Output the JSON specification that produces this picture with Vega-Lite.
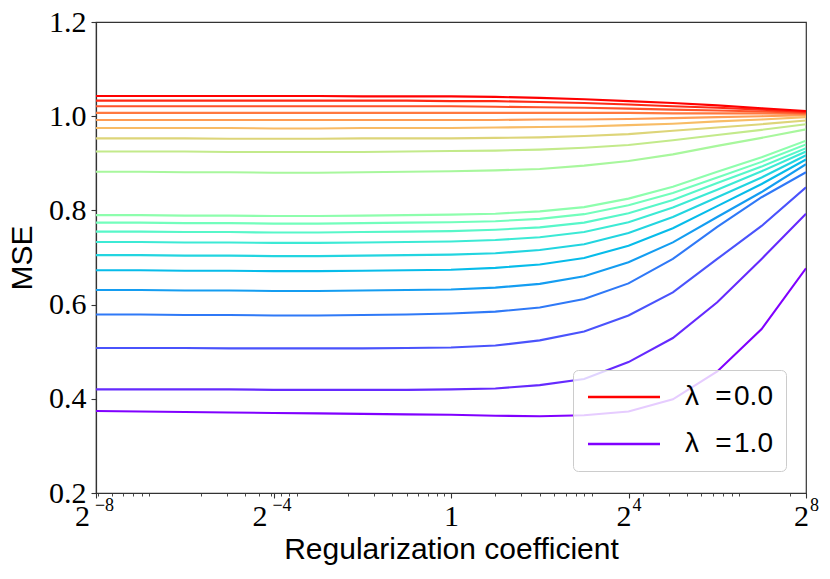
{
  "$schema": "https://vega.github.io/schema/vega-lite/v6.json",
  "autosize": {"type": "none"},
  "padding": {"left": 96, "top": 22, "right": 24, "bottom": 86},
  "width": 710,
  "height": 471,
  "background": "white",
  "config": {
    "view": {"stroke": "#333333", "strokeWidth": 1.2},
    "axis": {"grid": false, "domainColor": "#333333", "domainWidth": 1.2, "tickColor": "#333333", "tickWidth": 1.1, "labelColor": "black", "titleColor": "black", "titleFontWeight": "normal"}
  },
  "data": {
    "values": [
      {"lambda": 1, "coef": 0.00390625, "mse": 0.374}, {"lambda": 1, "coef": 0.0078125, "mse": 0.373}, {"lambda": 1, "coef": 0.015625, "mse": 0.372}, {"lambda": 1, "coef": 0.03125, "mse": 0.371}, {"lambda": 1, "coef": 0.0625, "mse": 0.370}, {"lambda": 1, "coef": 0.125, "mse": 0.369}, {"lambda": 1, "coef": 0.25, "mse": 0.368}, {"lambda": 1, "coef": 0.5, "mse": 0.367}, {"lambda": 1, "coef": 1, "mse": 0.366}, {"lambda": 1, "coef": 2, "mse": 0.364}, {"lambda": 1, "coef": 4, "mse": 0.363}, {"lambda": 1, "coef": 8, "mse": 0.365}, {"lambda": 1, "coef": 16, "mse": 0.373}, {"lambda": 1, "coef": 32, "mse": 0.399}, {"lambda": 1, "coef": 64, "mse": 0.458}, {"lambda": 1, "coef": 128, "mse": 0.548}, {"lambda": 1, "coef": 256, "mse": 0.677},
      {"lambda": 0.947, "coef": 0.00390625, "mse": 0.420}, {"lambda": 0.947, "coef": 0.0078125, "mse": 0.420}, {"lambda": 0.947, "coef": 0.015625, "mse": 0.420}, {"lambda": 0.947, "coef": 0.03125, "mse": 0.420}, {"lambda": 0.947, "coef": 0.0625, "mse": 0.419}, {"lambda": 0.947, "coef": 0.125, "mse": 0.419}, {"lambda": 0.947, "coef": 0.25, "mse": 0.419}, {"lambda": 0.947, "coef": 0.5, "mse": 0.419}, {"lambda": 0.947, "coef": 1, "mse": 0.420}, {"lambda": 0.947, "coef": 2, "mse": 0.422}, {"lambda": 0.947, "coef": 4, "mse": 0.429}, {"lambda": 0.947, "coef": 8, "mse": 0.442}, {"lambda": 0.947, "coef": 16, "mse": 0.478}, {"lambda": 0.947, "coef": 32, "mse": 0.529}, {"lambda": 0.947, "coef": 64, "mse": 0.605}, {"lambda": 0.947, "coef": 128, "mse": 0.697}, {"lambda": 0.947, "coef": 256, "mse": 0.793},
      {"lambda": 0.895, "coef": 0.00390625, "mse": 0.508}, {"lambda": 0.895, "coef": 0.0078125, "mse": 0.508}, {"lambda": 0.895, "coef": 0.015625, "mse": 0.508}, {"lambda": 0.895, "coef": 0.03125, "mse": 0.507}, {"lambda": 0.895, "coef": 0.0625, "mse": 0.507}, {"lambda": 0.895, "coef": 0.125, "mse": 0.507}, {"lambda": 0.895, "coef": 0.25, "mse": 0.507}, {"lambda": 0.895, "coef": 0.5, "mse": 0.508}, {"lambda": 0.895, "coef": 1, "mse": 0.509}, {"lambda": 0.895, "coef": 2, "mse": 0.513}, {"lambda": 0.895, "coef": 4, "mse": 0.524}, {"lambda": 0.895, "coef": 8, "mse": 0.543}, {"lambda": 0.895, "coef": 16, "mse": 0.577}, {"lambda": 0.895, "coef": 32, "mse": 0.626}, {"lambda": 0.895, "coef": 64, "mse": 0.697}, {"lambda": 0.895, "coef": 128, "mse": 0.767}, {"lambda": 0.895, "coef": 256, "mse": 0.849},
      {"lambda": 0.842, "coef": 0.00390625, "mse": 0.579}, {"lambda": 0.842, "coef": 0.0078125, "mse": 0.579}, {"lambda": 0.842, "coef": 0.015625, "mse": 0.578}, {"lambda": 0.842, "coef": 0.03125, "mse": 0.578}, {"lambda": 0.842, "coef": 0.0625, "mse": 0.577}, {"lambda": 0.842, "coef": 0.125, "mse": 0.577}, {"lambda": 0.842, "coef": 0.25, "mse": 0.578}, {"lambda": 0.842, "coef": 0.5, "mse": 0.579}, {"lambda": 0.842, "coef": 1, "mse": 0.581}, {"lambda": 0.842, "coef": 2, "mse": 0.585}, {"lambda": 0.842, "coef": 4, "mse": 0.594}, {"lambda": 0.842, "coef": 8, "mse": 0.612}, {"lambda": 0.842, "coef": 16, "mse": 0.645}, {"lambda": 0.842, "coef": 32, "mse": 0.697}, {"lambda": 0.842, "coef": 64, "mse": 0.765}, {"lambda": 0.842, "coef": 128, "mse": 0.828}, {"lambda": 0.842, "coef": 256, "mse": 0.881},
      {"lambda": 0.789, "coef": 0.00390625, "mse": 0.631}, {"lambda": 0.789, "coef": 0.0078125, "mse": 0.631}, {"lambda": 0.789, "coef": 0.015625, "mse": 0.630}, {"lambda": 0.789, "coef": 0.03125, "mse": 0.630}, {"lambda": 0.789, "coef": 0.0625, "mse": 0.629}, {"lambda": 0.789, "coef": 0.125, "mse": 0.629}, {"lambda": 0.789, "coef": 0.25, "mse": 0.630}, {"lambda": 0.789, "coef": 0.5, "mse": 0.631}, {"lambda": 0.789, "coef": 1, "mse": 0.632}, {"lambda": 0.789, "coef": 2, "mse": 0.636}, {"lambda": 0.789, "coef": 4, "mse": 0.644}, {"lambda": 0.789, "coef": 8, "mse": 0.660}, {"lambda": 0.789, "coef": 16, "mse": 0.690}, {"lambda": 0.789, "coef": 32, "mse": 0.732}, {"lambda": 0.789, "coef": 64, "mse": 0.786}, {"lambda": 0.789, "coef": 128, "mse": 0.839}, {"lambda": 0.789, "coef": 256, "mse": 0.898},
      {"lambda": 0.737, "coef": 0.00390625, "mse": 0.673}, {"lambda": 0.737, "coef": 0.0078125, "mse": 0.673}, {"lambda": 0.737, "coef": 0.015625, "mse": 0.672}, {"lambda": 0.737, "coef": 0.03125, "mse": 0.672}, {"lambda": 0.737, "coef": 0.0625, "mse": 0.671}, {"lambda": 0.737, "coef": 0.125, "mse": 0.671}, {"lambda": 0.737, "coef": 0.25, "mse": 0.672}, {"lambda": 0.737, "coef": 0.5, "mse": 0.673}, {"lambda": 0.737, "coef": 1, "mse": 0.674}, {"lambda": 0.737, "coef": 2, "mse": 0.678}, {"lambda": 0.737, "coef": 4, "mse": 0.685}, {"lambda": 0.737, "coef": 8, "mse": 0.699}, {"lambda": 0.737, "coef": 16, "mse": 0.725}, {"lambda": 0.737, "coef": 32, "mse": 0.762}, {"lambda": 0.737, "coef": 64, "mse": 0.809}, {"lambda": 0.737, "coef": 128, "mse": 0.856}, {"lambda": 0.737, "coef": 256, "mse": 0.908},
      {"lambda": 0.684, "coef": 0.00390625, "mse": 0.705}, {"lambda": 0.684, "coef": 0.0078125, "mse": 0.705}, {"lambda": 0.684, "coef": 0.015625, "mse": 0.704}, {"lambda": 0.684, "coef": 0.03125, "mse": 0.704}, {"lambda": 0.684, "coef": 0.0625, "mse": 0.703}, {"lambda": 0.684, "coef": 0.125, "mse": 0.703}, {"lambda": 0.684, "coef": 0.25, "mse": 0.704}, {"lambda": 0.684, "coef": 0.5, "mse": 0.705}, {"lambda": 0.684, "coef": 1, "mse": 0.706}, {"lambda": 0.684, "coef": 2, "mse": 0.709}, {"lambda": 0.684, "coef": 4, "mse": 0.716}, {"lambda": 0.684, "coef": 8, "mse": 0.728}, {"lambda": 0.684, "coef": 16, "mse": 0.752}, {"lambda": 0.684, "coef": 32, "mse": 0.786}, {"lambda": 0.684, "coef": 64, "mse": 0.828}, {"lambda": 0.684, "coef": 128, "mse": 0.870}, {"lambda": 0.684, "coef": 256, "mse": 0.917},
      {"lambda": 0.632, "coef": 0.00390625, "mse": 0.733}, {"lambda": 0.632, "coef": 0.0078125, "mse": 0.733}, {"lambda": 0.632, "coef": 0.015625, "mse": 0.732}, {"lambda": 0.632, "coef": 0.03125, "mse": 0.732}, {"lambda": 0.632, "coef": 0.0625, "mse": 0.731}, {"lambda": 0.632, "coef": 0.125, "mse": 0.731}, {"lambda": 0.632, "coef": 0.25, "mse": 0.732}, {"lambda": 0.632, "coef": 0.5, "mse": 0.733}, {"lambda": 0.632, "coef": 1, "mse": 0.734}, {"lambda": 0.632, "coef": 2, "mse": 0.737}, {"lambda": 0.632, "coef": 4, "mse": 0.743}, {"lambda": 0.632, "coef": 8, "mse": 0.754}, {"lambda": 0.632, "coef": 16, "mse": 0.775}, {"lambda": 0.632, "coef": 32, "mse": 0.806}, {"lambda": 0.632, "coef": 64, "mse": 0.844}, {"lambda": 0.632, "coef": 128, "mse": 0.883}, {"lambda": 0.632, "coef": 256, "mse": 0.925},
      {"lambda": 0.579, "coef": 0.00390625, "mse": 0.755}, {"lambda": 0.579, "coef": 0.0078125, "mse": 0.755}, {"lambda": 0.579, "coef": 0.015625, "mse": 0.754}, {"lambda": 0.579, "coef": 0.03125, "mse": 0.754}, {"lambda": 0.579, "coef": 0.0625, "mse": 0.753}, {"lambda": 0.579, "coef": 0.125, "mse": 0.753}, {"lambda": 0.579, "coef": 0.25, "mse": 0.754}, {"lambda": 0.579, "coef": 0.5, "mse": 0.755}, {"lambda": 0.579, "coef": 1, "mse": 0.756}, {"lambda": 0.579, "coef": 2, "mse": 0.759}, {"lambda": 0.579, "coef": 4, "mse": 0.764}, {"lambda": 0.579, "coef": 8, "mse": 0.774}, {"lambda": 0.579, "coef": 16, "mse": 0.794}, {"lambda": 0.579, "coef": 32, "mse": 0.822}, {"lambda": 0.579, "coef": 64, "mse": 0.858}, {"lambda": 0.579, "coef": 128, "mse": 0.893}, {"lambda": 0.579, "coef": 256, "mse": 0.932},
      {"lambda": 0.526, "coef": 0.00390625, "mse": 0.774}, {"lambda": 0.526, "coef": 0.0078125, "mse": 0.774}, {"lambda": 0.526, "coef": 0.015625, "mse": 0.773}, {"lambda": 0.526, "coef": 0.03125, "mse": 0.773}, {"lambda": 0.526, "coef": 0.0625, "mse": 0.772}, {"lambda": 0.526, "coef": 0.125, "mse": 0.772}, {"lambda": 0.526, "coef": 0.25, "mse": 0.773}, {"lambda": 0.526, "coef": 0.5, "mse": 0.774}, {"lambda": 0.526, "coef": 1, "mse": 0.775}, {"lambda": 0.526, "coef": 2, "mse": 0.777}, {"lambda": 0.526, "coef": 4, "mse": 0.782}, {"lambda": 0.526, "coef": 8, "mse": 0.792}, {"lambda": 0.526, "coef": 16, "mse": 0.811}, {"lambda": 0.526, "coef": 32, "mse": 0.837}, {"lambda": 0.526, "coef": 64, "mse": 0.870}, {"lambda": 0.526, "coef": 128, "mse": 0.903}, {"lambda": 0.526, "coef": 256, "mse": 0.940},
      {"lambda": 0.474, "coef": 0.00390625, "mse": 0.790}, {"lambda": 0.474, "coef": 0.0078125, "mse": 0.790}, {"lambda": 0.474, "coef": 0.015625, "mse": 0.789}, {"lambda": 0.474, "coef": 0.03125, "mse": 0.789}, {"lambda": 0.474, "coef": 0.0625, "mse": 0.788}, {"lambda": 0.474, "coef": 0.125, "mse": 0.788}, {"lambda": 0.474, "coef": 0.25, "mse": 0.789}, {"lambda": 0.474, "coef": 0.5, "mse": 0.790}, {"lambda": 0.474, "coef": 1, "mse": 0.791}, {"lambda": 0.474, "coef": 2, "mse": 0.793}, {"lambda": 0.474, "coef": 4, "mse": 0.798}, {"lambda": 0.474, "coef": 8, "mse": 0.807}, {"lambda": 0.474, "coef": 16, "mse": 0.825}, {"lambda": 0.474, "coef": 32, "mse": 0.850}, {"lambda": 0.474, "coef": 64, "mse": 0.882}, {"lambda": 0.474, "coef": 128, "mse": 0.913}, {"lambda": 0.474, "coef": 256, "mse": 0.948},
      {"lambda": 0.421, "coef": 0.00390625, "mse": 0.882}, {"lambda": 0.421, "coef": 0.0078125, "mse": 0.882}, {"lambda": 0.421, "coef": 0.015625, "mse": 0.881}, {"lambda": 0.421, "coef": 0.03125, "mse": 0.881}, {"lambda": 0.421, "coef": 0.0625, "mse": 0.880}, {"lambda": 0.421, "coef": 0.125, "mse": 0.880}, {"lambda": 0.421, "coef": 0.25, "mse": 0.881}, {"lambda": 0.421, "coef": 0.5, "mse": 0.882}, {"lambda": 0.421, "coef": 1, "mse": 0.883}, {"lambda": 0.421, "coef": 2, "mse": 0.885}, {"lambda": 0.421, "coef": 4, "mse": 0.888}, {"lambda": 0.421, "coef": 8, "mse": 0.895}, {"lambda": 0.421, "coef": 16, "mse": 0.905}, {"lambda": 0.421, "coef": 32, "mse": 0.919}, {"lambda": 0.421, "coef": 64, "mse": 0.937}, {"lambda": 0.421, "coef": 128, "mse": 0.954}, {"lambda": 0.421, "coef": 256, "mse": 0.972},
      {"lambda": 0.368, "coef": 0.00390625, "mse": 0.925}, {"lambda": 0.368, "coef": 0.0078125, "mse": 0.925}, {"lambda": 0.368, "coef": 0.015625, "mse": 0.925}, {"lambda": 0.368, "coef": 0.03125, "mse": 0.924}, {"lambda": 0.368, "coef": 0.0625, "mse": 0.924}, {"lambda": 0.368, "coef": 0.125, "mse": 0.924}, {"lambda": 0.368, "coef": 0.25, "mse": 0.924}, {"lambda": 0.368, "coef": 0.5, "mse": 0.925}, {"lambda": 0.368, "coef": 1, "mse": 0.926}, {"lambda": 0.368, "coef": 2, "mse": 0.927}, {"lambda": 0.368, "coef": 4, "mse": 0.929}, {"lambda": 0.368, "coef": 8, "mse": 0.933}, {"lambda": 0.368, "coef": 16, "mse": 0.939}, {"lambda": 0.368, "coef": 32, "mse": 0.949}, {"lambda": 0.368, "coef": 64, "mse": 0.960}, {"lambda": 0.368, "coef": 128, "mse": 0.971}, {"lambda": 0.368, "coef": 256, "mse": 0.983},
      {"lambda": 0.316, "coef": 0.00390625, "mse": 0.953}, {"lambda": 0.316, "coef": 0.0078125, "mse": 0.953}, {"lambda": 0.316, "coef": 0.015625, "mse": 0.953}, {"lambda": 0.316, "coef": 0.03125, "mse": 0.952}, {"lambda": 0.316, "coef": 0.0625, "mse": 0.952}, {"lambda": 0.316, "coef": 0.125, "mse": 0.952}, {"lambda": 0.316, "coef": 0.25, "mse": 0.953}, {"lambda": 0.316, "coef": 0.5, "mse": 0.953}, {"lambda": 0.316, "coef": 1, "mse": 0.953}, {"lambda": 0.316, "coef": 2, "mse": 0.954}, {"lambda": 0.316, "coef": 4, "mse": 0.955}, {"lambda": 0.316, "coef": 8, "mse": 0.958}, {"lambda": 0.316, "coef": 16, "mse": 0.962}, {"lambda": 0.316, "coef": 32, "mse": 0.969}, {"lambda": 0.316, "coef": 64, "mse": 0.976}, {"lambda": 0.316, "coef": 128, "mse": 0.983}, {"lambda": 0.316, "coef": 256, "mse": 0.991},
      {"lambda": 0.263, "coef": 0.00390625, "mse": 0.975}, {"lambda": 0.263, "coef": 0.0078125, "mse": 0.975}, {"lambda": 0.263, "coef": 0.015625, "mse": 0.975}, {"lambda": 0.263, "coef": 0.03125, "mse": 0.975}, {"lambda": 0.263, "coef": 0.0625, "mse": 0.974}, {"lambda": 0.263, "coef": 0.125, "mse": 0.974}, {"lambda": 0.263, "coef": 0.25, "mse": 0.975}, {"lambda": 0.263, "coef": 0.5, "mse": 0.975}, {"lambda": 0.263, "coef": 1, "mse": 0.975}, {"lambda": 0.263, "coef": 2, "mse": 0.976}, {"lambda": 0.263, "coef": 4, "mse": 0.977}, {"lambda": 0.263, "coef": 8, "mse": 0.978}, {"lambda": 0.263, "coef": 16, "mse": 0.981}, {"lambda": 0.263, "coef": 32, "mse": 0.984}, {"lambda": 0.263, "coef": 64, "mse": 0.989}, {"lambda": 0.263, "coef": 128, "mse": 0.993}, {"lambda": 0.263, "coef": 256, "mse": 0.998},
      {"lambda": 0.211, "coef": 0.00390625, "mse": 0.992}, {"lambda": 0.211, "coef": 0.0078125, "mse": 0.992}, {"lambda": 0.211, "coef": 0.015625, "mse": 0.992}, {"lambda": 0.211, "coef": 0.03125, "mse": 0.992}, {"lambda": 0.211, "coef": 0.0625, "mse": 0.992}, {"lambda": 0.211, "coef": 0.125, "mse": 0.992}, {"lambda": 0.211, "coef": 0.25, "mse": 0.992}, {"lambda": 0.211, "coef": 0.5, "mse": 0.992}, {"lambda": 0.211, "coef": 1, "mse": 0.992}, {"lambda": 0.211, "coef": 2, "mse": 0.992}, {"lambda": 0.211, "coef": 4, "mse": 0.993}, {"lambda": 0.211, "coef": 8, "mse": 0.993}, {"lambda": 0.211, "coef": 16, "mse": 0.994}, {"lambda": 0.211, "coef": 32, "mse": 0.996}, {"lambda": 0.211, "coef": 64, "mse": 0.998}, {"lambda": 0.211, "coef": 128, "mse": 1.000}, {"lambda": 0.211, "coef": 256, "mse": 1.002},
      {"lambda": 0.158, "coef": 0.00390625, "mse": 1.007}, {"lambda": 0.158, "coef": 0.0078125, "mse": 1.007}, {"lambda": 0.158, "coef": 0.015625, "mse": 1.007}, {"lambda": 0.158, "coef": 0.03125, "mse": 1.007}, {"lambda": 0.158, "coef": 0.0625, "mse": 1.007}, {"lambda": 0.158, "coef": 0.125, "mse": 1.007}, {"lambda": 0.158, "coef": 0.25, "mse": 1.007}, {"lambda": 0.158, "coef": 0.5, "mse": 1.007}, {"lambda": 0.158, "coef": 1, "mse": 1.007}, {"lambda": 0.158, "coef": 2, "mse": 1.007}, {"lambda": 0.158, "coef": 4, "mse": 1.007}, {"lambda": 0.158, "coef": 8, "mse": 1.007}, {"lambda": 0.158, "coef": 16, "mse": 1.007}, {"lambda": 0.158, "coef": 32, "mse": 1.006}, {"lambda": 0.158, "coef": 64, "mse": 1.006}, {"lambda": 0.158, "coef": 128, "mse": 1.006}, {"lambda": 0.158, "coef": 256, "mse": 1.005},
      {"lambda": 0.105, "coef": 0.00390625, "mse": 1.021}, {"lambda": 0.105, "coef": 0.0078125, "mse": 1.021}, {"lambda": 0.105, "coef": 0.015625, "mse": 1.021}, {"lambda": 0.105, "coef": 0.03125, "mse": 1.021}, {"lambda": 0.105, "coef": 0.0625, "mse": 1.021}, {"lambda": 0.105, "coef": 0.125, "mse": 1.021}, {"lambda": 0.105, "coef": 0.25, "mse": 1.021}, {"lambda": 0.105, "coef": 0.5, "mse": 1.021}, {"lambda": 0.105, "coef": 1, "mse": 1.021}, {"lambda": 0.105, "coef": 2, "mse": 1.020}, {"lambda": 0.105, "coef": 4, "mse": 1.019}, {"lambda": 0.105, "coef": 8, "mse": 1.018}, {"lambda": 0.105, "coef": 16, "mse": 1.016}, {"lambda": 0.105, "coef": 32, "mse": 1.014}, {"lambda": 0.105, "coef": 64, "mse": 1.012}, {"lambda": 0.105, "coef": 128, "mse": 1.010}, {"lambda": 0.105, "coef": 256, "mse": 1.007},
      {"lambda": 0.053, "coef": 0.00390625, "mse": 1.033}, {"lambda": 0.053, "coef": 0.0078125, "mse": 1.033}, {"lambda": 0.053, "coef": 0.015625, "mse": 1.033}, {"lambda": 0.053, "coef": 0.03125, "mse": 1.033}, {"lambda": 0.053, "coef": 0.0625, "mse": 1.033}, {"lambda": 0.053, "coef": 0.125, "mse": 1.033}, {"lambda": 0.053, "coef": 0.25, "mse": 1.033}, {"lambda": 0.053, "coef": 0.5, "mse": 1.033}, {"lambda": 0.053, "coef": 1, "mse": 1.032}, {"lambda": 0.053, "coef": 2, "mse": 1.032}, {"lambda": 0.053, "coef": 4, "mse": 1.030}, {"lambda": 0.053, "coef": 8, "mse": 1.028}, {"lambda": 0.053, "coef": 16, "mse": 1.025}, {"lambda": 0.053, "coef": 32, "mse": 1.021}, {"lambda": 0.053, "coef": 64, "mse": 1.018}, {"lambda": 0.053, "coef": 128, "mse": 1.014}, {"lambda": 0.053, "coef": 256, "mse": 1.009},
      {"lambda": 0, "coef": 0.00390625, "mse": 1.043}, {"lambda": 0, "coef": 0.0078125, "mse": 1.043}, {"lambda": 0, "coef": 0.015625, "mse": 1.043}, {"lambda": 0, "coef": 0.03125, "mse": 1.043}, {"lambda": 0, "coef": 0.0625, "mse": 1.043}, {"lambda": 0, "coef": 0.125, "mse": 1.043}, {"lambda": 0, "coef": 0.25, "mse": 1.042}, {"lambda": 0, "coef": 0.5, "mse": 1.042}, {"lambda": 0, "coef": 1, "mse": 1.042}, {"lambda": 0, "coef": 2, "mse": 1.041}, {"lambda": 0, "coef": 4, "mse": 1.039}, {"lambda": 0, "coef": 8, "mse": 1.036}, {"lambda": 0, "coef": 16, "mse": 1.032}, {"lambda": 0, "coef": 32, "mse": 1.028}, {"lambda": 0, "coef": 64, "mse": 1.023}, {"lambda": 0, "coef": 128, "mse": 1.017}, {"lambda": 0, "coef": 256, "mse": 1.011}
    ]
  },
  "layer": [
    {
      "mark": {"type": "line", "strokeWidth": 2.1, "clip": true},
      "encoding": {
        "x": {
          "field": "coef", "type": "quantitative",
          "scale": {"type": "log", "base": 2, "domain": [0.00390625, 256], "nice": false},
          "axis": {
            "orient": "bottom",
            "values": [0.00390625, 0.0625, 1, 16, 256],
            "labelExpr": "datum.value == 1 ? '1' : '2'",
            "labelFont": "Liberation Serif", "labelFontSize": 30, "labelPadding": 3, "labelFlush": false, "labelOverlap": false,
            "labelAlign": "center",
            "labelOffset": {"condition": [{"test": "datum.value < 0.5", "value": -14}, {"test": "datum.value > 2", "value": -5}], "value": 0},
            "tickSize": 5,
            "title": "Regularization coefficient", "titleFont": "Liberation Sans", "titleFontSize": 30, "titlePadding": 3
          }
        },
        "y": {
          "field": "mse", "type": "quantitative",
          "scale": {"domain": [0.2, 1.2], "nice": false, "zero": false},
          "axis": {
            "values": [0.2, 0.4, 0.6, 0.8, 1.0, 1.2], "format": ".1f",
            "labelFont": "Liberation Serif", "labelFontSize": 30, "labelPadding": 5, "labelFlush": false, "labelOverlap": false,
            "tickSize": 5,
            "title": "MSE", "titleFont": "Liberation Sans", "titleFontSize": 30, "titlePadding": 11
          }
        },
        "color": {
          "field": "lambda", "type": "ordinal",
          "scale": {
            "domain": [0, 0.053, 0.105, 0.158, 0.211, 0.263, 0.316, 0.368, 0.421, 0.474, 0.526, 0.579, 0.632, 0.684, 0.737, 0.789, 0.842, 0.895, 0.947, 1],
            "range": ["#ff0000", "#ff2a15", "#ff532a", "#ff793f", "#ff9d53", "#f8bc66", "#ddd579", "#c3ea8b", "#a8f79d", "#8dfead", "#72febc", "#57f7c9", "#3cead5", "#22d5e0", "#07bcea", "#149df1", "#2f79f7", "#4a53fc", "#652afe", "#8000ff"]
          },
          "legend": {
            "values": [0, 1],
            "title": null,
            "orient": "none", "legendX": 477, "legendY": 348,
            "padding": 13, "rowPadding": 19,
            "fillColor": "rgba(255,255,255,0.8)", "strokeColor": "#cccccc", "cornerRadius": 5,
            "symbolType": "M-1,0H5", "symbolSize": 576, "symbolStrokeWidth": 2.6,
            "labelExpr": "'λ\u2002\u200a=\u200a' + format(datum.value, '.1f')",
            "labelFont": "Liberation Sans", "labelFontSize": 28, "labelOffset": 71, "labelColor": "black"
          }
        }
      }
    },
    {
      "mark": {"type": "point", "opacity": 0},
      "encoding": {
        "x": {
          "field": "coef", "type": "quantitative",
          "axis": {
            "orient": "bottom",
            "values": [0.004, 0.005, 0.006, 0.007, 0.008, 0.009, 0.02, 0.03, 0.04, 0.05, 0.06, 0.07, 0.08, 0.09, 0.2, 0.3, 0.4, 0.5, 0.6, 0.7, 0.8, 0.9, 2, 3, 4, 5, 6, 7, 8, 9, 20, 30, 40, 50, 60, 70, 80, 90, 200],
            "labels": false, "domain": false, "tickSize": 3, "tickWidth": 0.9, "title": null
          }
        },
        "y": {"field": "mse", "type": "quantitative"}
      }
    },
    {
      "mark": {"type": "point", "opacity": 0},
      "encoding": {
        "x": {
          "field": "coef", "type": "quantitative",
          "axis": {
            "orient": "bottom",
            "values": [0.00390625, 0.0625, 16, 256],
            "labelExpr": "datum.value < 0.01 ? '−8' : datum.value < 0.1 ? '−4' : datum.value < 100 ? '4' : '8'",
            "labelFont": "Liberation Serif", "labelFontSize": 18, "labelPadding": 3, "labelFlush": false, "labelOverlap": false,
            "labelAlign": "center", "labelOffset": 8,
            "domain": false, "ticks": false, "tickSize": 0, "title": null
          }
        },
        "y": {"field": "mse", "type": "quantitative"}
      }
    }
  ],
  "resolve": {"axis": {"x": "independent"}}
}
